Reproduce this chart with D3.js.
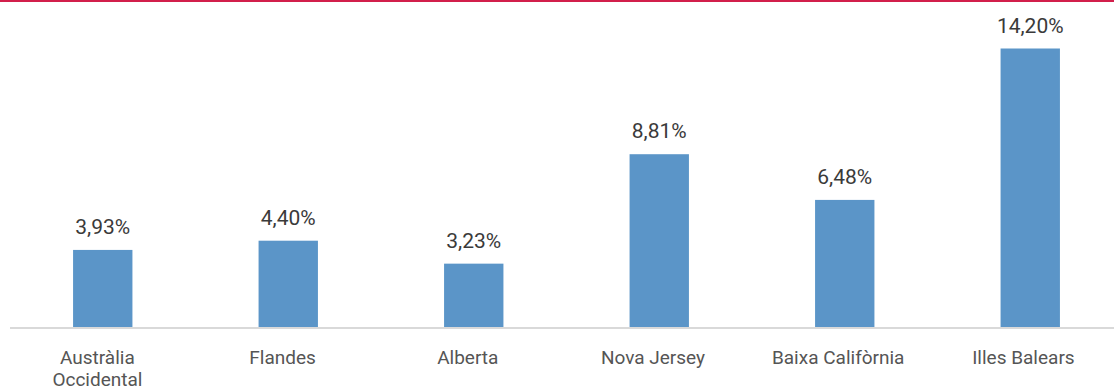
<!DOCTYPE html>
<html>
<head>
<meta charset="utf-8">
<script src="https://cdn.jsdelivr.net/npm/d3@7"></script>
<style>
  html, body { margin: 0; padding: 0; background: #fff; }
  svg { display: block; }
</style>
</head>
<body>
<svg id="chart" width="1114" height="390"></svg>
<script>
// Regions and their rates (%)
const categories = ["Austràlia Occidental", "Flandes", "Alberta", "Nova Jersey", "Baixa Califòrnia", "Illes Balears"];
const categoryLines = [["Austràlia", "Occidental"], ["Flandes"], ["Alberta"], ["Nova Jersey"], ["Baixa Califòrnia"], ["Illes Balears"]];
const values = [3.93, 4.40, 3.23, 8.81, 6.48, 14.20];
const valueLabels = ["3,93%", "4,40%", "3,23%", "8,81%", "6,48%", "14,20%"];

const W = 1114, H = 390;
const baseY = 327;
const font = "Roboto, 'Noto Sans', sans-serif";

const svg = d3.select("#chart");

// Top accent rule
svg.append("rect")
  .attr("x", 0).attr("y", 0)
  .attr("width", W).attr("height", 2)
  .attr("fill", "#d21f4b");

const x = d3.scaleBand()
  .domain(categories)
  .range([10, 1123])
  .paddingInner(0.68)
  .paddingOuter(0.34);

// Category axis labels sit on a slightly tighter grid than the bars
const xLabel = d3.scalePoint()
  .domain(categories)
  .range([4.8, 1116])
  .padding(0.5);

const y = d3.scaleLinear()
  .domain([0, 14.2])
  .range([baseY, 48.5]);

const data = categories.map((c, i) => ({ c, v: values[i], label: valueLabels[i], lines: categoryLines[i] }));

// Bars
svg.append("g")
  .selectAll("rect")
  .data(data)
  .join("rect")
  .attr("x", d => x(d.c))
  .attr("y", d => y(d.v))
  .attr("width", x.bandwidth())
  .attr("height", d => baseY - y(d.v))
  .attr("fill", "#5b95c8");

// Baseline
svg.append("line")
  .attr("x1", 10).attr("x2", W)
  .attr("y1", baseY + 1).attr("y2", baseY + 1)
  .attr("stroke", "#d9d9d9")
  .attr("stroke-width", 2);

// Value labels
svg.append("g")
  .selectAll("text")
  .data(data)
  .join("text")
  .attr("x", d => x(d.c) + x.bandwidth() / 2)
  .attr("y", d => y(d.v) - 16)
  .attr("text-anchor", "middle")
  .attr("font-family", font)
  .attr("font-size", 21)
  .attr("fill", "#3a3a3a")
  .text(d => d.label);

// Category labels
const cat = svg.append("g")
  .selectAll("text")
  .data(data)
  .join("text")
  .attr("x", d => xLabel(d.c))
  .attr("y", 364)
  .attr("text-anchor", "middle")
  .attr("font-family", font)
  .attr("font-size", 19)
  .attr("fill", "#555");

cat.selectAll("tspan")
  .data(d => d.lines.map(t => ({ t, cx: xLabel(d.c) })))
  .join("tspan")
  .attr("x", d => d.cx)
  .attr("dy", (d, i) => i === 0 ? 0 : 22)
  .text(d => d.t);
</script>
</body>
</html>
